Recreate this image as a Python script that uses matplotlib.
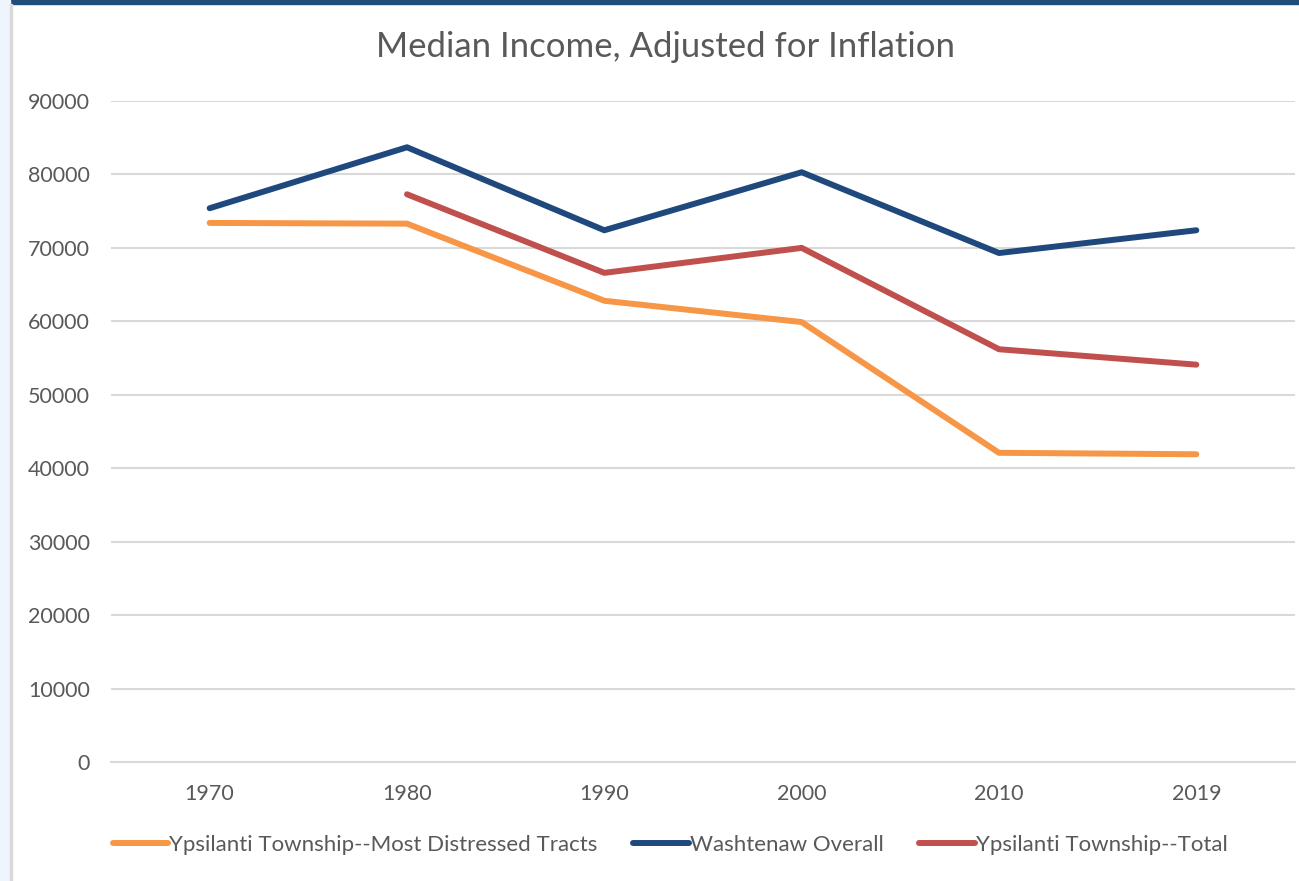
import matplotlib.pyplot as plt
from matplotlib.patches import Rectangle
import numpy as np

years = ["1970", "1980", "1990", "2000", "2010", "2019"]
distressed = [73400, 73300, 62800, 59900, 42100, 41900]
washtenaw = [75400, 83700, 72400, 80300, 69300, 72400]
ypsi_total = [np.nan, 77300, 66600, 70000, 56200, 54100]

series = [
    ("Ypsilanti Township--Most Distressed Tracts", distressed, "#F79646"),
    ("Washtenaw Overall", washtenaw, "#1F497D"),
    ("Ypsilanti Township--Total", ypsi_total, "#C0504D"),
]

plt.rcParams["font.family"] = ["Lato", "DejaVu Sans"]
text_color = "#595959"

fig = plt.figure(figsize=(12.99, 8.81), dpi=100)

# screenshot frame: dark top bar, pale strip and grey rule on the left
fig.patches.append(Rectangle((0, 1 - 4 / 881), 1, 4 / 881, transform=fig.transFigure,
                             color="#1F4E79", zorder=0))
fig.patches.append(Rectangle((0, 0), 10 / 1299, 1, transform=fig.transFigure,
                             color="#EEF5FC", zorder=0))
fig.patches.append(Rectangle((10 / 1299, 0), 2 / 1299, 1 - 4 / 881, transform=fig.transFigure,
                             color="#D9D9D9", zorder=0))

ax = fig.add_axes([111 / 1299, 1 - 762 / 881, (1295 - 111) / 1299, (762 - 101) / 881])

x = np.arange(len(years))
for name, vals, color in series:
    ax.plot(x, vals, color=color, linewidth=4.3, label=name,
            solid_capstyle="round", solid_joinstyle="round", zorder=3)

ax.set_xlim(-0.5, len(years) - 0.5)
ax.set_ylim(0, 90000)
ax.set_yticks(range(0, 90001, 10000))
ax.set_yticklabels([str(v) for v in range(0, 90001, 10000)])
ax.set_xticks(x)
ax.set_xticklabels(years)

ax.grid(axis="y", color="#D9D9D9", linewidth=1.5, zorder=0)
ax.set_axisbelow(True)
for s in ["top", "right", "left"]:
    ax.spines[s].set_visible(False)
ax.spines["bottom"].set_color("#D9D9D9")
ax.spines["bottom"].set_linewidth(1.5)
ax.tick_params(axis="both", length=0, labelsize=15.5, colors=text_color)
ax.tick_params(axis="y", pad=15)
ax.tick_params(axis="x", pad=16)

fig.text(666 / 1299, 1 - 47 / 881, "Median Income, Adjusted for Inflation",
         ha="center", va="center", fontsize=25, color=text_color)

leg = fig.legend(loc="center", bbox_to_anchor=(670 / 1299, 1 - 845 / 881), ncol=3,
                 frameon=False, fontsize=16, handlelength=2.5, handletextpad=0.05,
                 columnspacing=1.6)
for t in leg.get_texts():
    t.set_color(text_color)

fig.savefig("out.png", dpi=100)
